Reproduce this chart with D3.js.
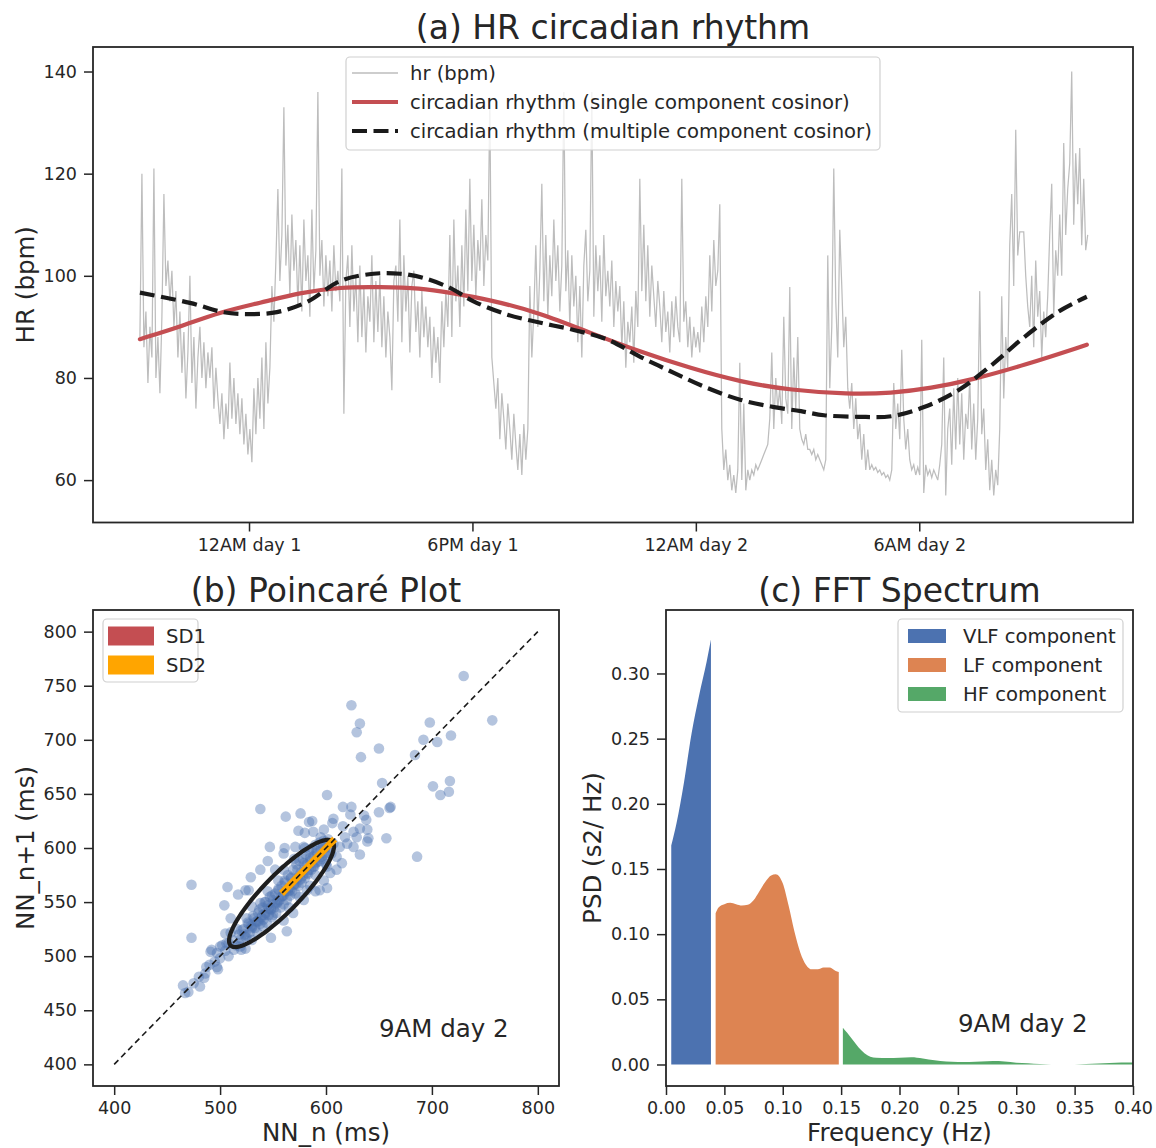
<!DOCTYPE html>
<html>
<head>
<meta charset="utf-8">
<script src="https://cdn.jsdelivr.net/npm/d3@7"></script>
<style>
  body { margin: 0; background: #fff; }
  svg { font-family: "DejaVu Sans", sans-serif; }
  .axis text { font-family: "DejaVu Sans", sans-serif; font-size: 17.5px; fill: #262626; }
  .axis line { stroke: #262626; stroke-width: 1.5; }
  .axis path { display: none; }
</style>
</head>
<body>
<svg id="chart" width="1156" height="1148"></svg>
<script>
// ---- (a) heart rate, hours relative to "12AM day 1" tick ----
const hrStart = -2.93;
const hrStep = 0.0537;
const hrValues = [
  88,120,86,93,79, 90,84,121,80,88, 77,92,116,98,103, 95,101,90,97,84, 93,81,89,76,85,
  100,79,88,74,84, 90,80,87,78,85, 80,86,74,82,76, 71,77,68,75,70, 83,72,80,71,77,
  69,76,67,73,65, 70,63.5,78,69,80, 72,84,70,87,75, 82,98,91,103,117, 99,108,133,102,110,
  96,112,101,107,94, 106,93,111,99,104, 92,113,97,105,136, 100,107,94,104,96, 103,93,106,97,101,
  95,121,73,99,104, 90,106,93,100,87, 102,88,98,85,96, 91,104,87,99,89, 100,86,96,84,93,
  88,77.6,99,102,91, 111,87,104,93,100, 85,98,101,89,95, 84,97,88,94,86, 92,80,90,83,88,
  79,95,86,97,90, 108,88,111,95,102, 90,106,94,113,97, 119,99,110,96,107, 101,115,98,108,103,
  135,84,79,74,80, 68,77,72,66,75, 70,64,73,67,62, 69,61,71,64,70, 98,84,93,106,90,
  101,118,95,108,92, 104,96,111,99,106, 93,102,136,97,105, 90,104,94,100,87, 98,84,102,109,95,
  101,136,92,106,97, 104,91,108,96,101, 94,103,90,99,93, 98,86,95,82,91, 87,94,83,97,90,
  119,97,110,95,106, 92,102,96,90,99, 94,87,97,89,93, 85,95,88,96,90, 87,119,91,95,86,
  92,84,90,86,89, 85,94,87,96,90, 104,93,107,98,101, 114,70,62,66,60, 63,58,61,57.5,62,
  83,60,75,58,62, 60,62,61,63,62, 63,64,65,66,67, 72,85,70,80,74, 78,71,92,76,73,
  97.8,70,84,74,88, 70,68,67,69,66, 66,65,66,64,65, 64,63,62,64,104, 78,90,121,95,84,
  109,98,86,92,78, 74,79,70,76,68, 71,64,69,62,66, 62,63,62,62.5,61.5, 62,61,61.5,60.5,61,
  60,62,79,70,75, 68,85.5,72,66,70, 64,62,63,61,62.5, 61,87.5,57.5,63,61, 62,60.5,62,61,60,
  63,67,84,57,70, 74,63,78,66,80, 67,77,64,73,70, 80,66,75,64,72, 97,69,74,62,68,
  58,64,57,62,59, 70,96,76,88,82, 106,116,98,128.6,104, 108.6,108.6,108.6,100,94, 90,100,86,103,92,
  97,84,93,88,96, 108,118,92,105,100, 112,100,126,108,117, 122,140,110,124,114, 125,106,119,105,108
];

const singleT = [-2.93, -1.86, -0.78, 0.3, 1.37, 2.45, 3.52, 4.6, 5.41, 6.48, 7.83, 9.17, 10.52, 11.86, 13.21, 14.55, 16.09, 17.25, 18.32, 19.4, 20.82, 22.5];
const singleHR = [87.6, 90.0, 92.9, 94.7, 96.7, 97.8, 97.8, 97.6, 96.7, 95.3, 92.7, 88.8, 85.1, 81.9, 79.2, 77.6, 76.8, 77.0, 78.0, 79.6, 82.5, 86.5];

const multiT = [-2.93, -1.59, -0.7, -0.05, 0.75, 1.56, 2.45, 3.34, 4.06, 4.68, 5.41, 6.03, 6.94, 7.83, 8.72, 9.63, 10.52, 11.41, 12.32, 13.21, 14.1, 14.82, 15.44, 16.36, 17.25, 18.13, 19.05, 19.94, 20.82, 21.74, 22.5];
const multiHR = [96.7, 94.7, 92.9, 92.5, 92.9, 94.9, 99.0, 100.4, 100.4, 99.6, 97.6, 95.0, 92.4, 90.8, 89.4, 87.5, 84.1, 81.0, 78.0, 75.7, 74.3, 73.5, 72.7, 72.4, 72.5, 74.3, 77.6, 82.5, 88.0, 93.0, 95.9];

const hrTickValues = [0, 6, 12, 18];
const hrTickLabels = ["12AM day 1", "6PM day 1", "12AM day 2", "6AM day 2"];
const hrLegend = ["hr (bpm)", "circadian rhythm (single component cosinor)", "circadian rhythm (multiple component cosinor)"];

// ---- (b) Poincaré ----
const nnX = [
  624,632,629,633,650,698,692,705,718,684,653,701,717,716,708,601,538,562,576,616,624,661,660,650,623,636,638,587,584,607,
  606,598,588,574,580,616,632,639,626,618,629,640,639,657,620,613,626,632,686,610,615,610,601,604,598,601,594,590,579,582,
  547,561,571,579,560,545,538,552,529,524,517,527,507,473,504,510,530,538,473,548,563,569,560,492,497,491,505,506,524,519,
  508,500,487,497,480,486,475,465,470,481,467,730,757,
  512,515,518,520,522,525,527,528,530,532,533,535,536,538,539,540,541,542,543,544,545,546,547,548,549,550,551,552,553,554,
  555,556,557,558,559,560,561,562,563,564,565,566,567,568,569,570,571,572,573,574,575,576,577,578,579,580,581,582,583,584,
  585,586,587,588,589,590,591,592,594,595,596,598,599,600,602,603,605,607,516,520,525,530,535,540,545,550,555,560,565,570,
  575,580,585,590,595,600,505,508,500,510,513,502,495,498,485,490,
  520,523,526,529,531,534,537,540,543,546,549,552,555,558,561,564,567,570,573,576,579,582,585,588,591,594,597,600,
  518,524,530,536,542,548,554,560,566,572,578,584,590,596
];
const nnY = [
  732,715,707,684,692,716,700,698,704,686,660,657,662,652,649,649,636,629,632,638,638,638,637,633,631,630,626,625,624,627,
  623,617,615,616,614,620,618,617,615,610,610,609,606,609,604,601,601,594,592,592,586,580,583,577,570,563,561,560,552,561,
  601,600,601,601,595,588,580,580,573,561,557,561,564,566,547,535,546,549,517,517,523,540,533,506,503,504,521,512,507,509,
  500,509,490,490,481,484,475,473,467,472,466,759,718,
  515,510,520,516,525,519,530,522,527,535,526,532,540,530,536,545,534,550,540,531,547,538,555,543,536,552,545,558,540,549,
  562,552,545,565,556,548,570,560,552,575,563,556,572,560,580,567,558,585,572,565,588,577,568,590,580,572,594,585,576,597,
  588,580,600,592,583,603,595,587,605,598,590,607,600,593,608,601,595,604,525,506,535,515,522,528,560,538,570,580,545,590,
  555,600,565,575,610,585,505,512,498,522,506,510,495,488,480,492,
  524,520,531,528,537,532,543,538,550,544,556,549,561,555,568,560,573,566,580,571,586,577,591,583,597,588,602,595,
  512,518,526,532,538,544,550,556,561,567,574,580,586,592
];
const nnMean = 558;
const sd1 = 17;
const sd2 = 68;
const poincareTicksX = [400, 500, 600, 700, 800];
const poincareTicksY = [400, 450, 500, 550, 600, 650, 700, 750, 800];
const poincareLegend = ["SD1", "SD2"];

// ---- (c) FFT spectrum ----
const vlfFreq = [0.0045, 0.009, 0.0155, 0.0219, 0.0283, 0.0348, 0.0385];
const vlfPsd = [0.168, 0.185, 0.217, 0.254, 0.283, 0.309, 0.326];
const lfFreq = [0.0425, 0.045, 0.05, 0.055, 0.06, 0.065, 0.07, 0.075, 0.08, 0.085, 0.09, 0.094, 0.1, 0.105, 0.11, 0.115, 0.12, 0.125, 0.13, 0.135, 0.14, 0.145, 0.148];
const lfPsd = [0.116, 0.1205, 0.123, 0.124, 0.123, 0.122, 0.1225, 0.126, 0.133, 0.14, 0.145, 0.146, 0.139, 0.122, 0.102, 0.086, 0.0764, 0.073, 0.073, 0.0744, 0.0744, 0.072, 0.071];
const hfFreq = [0.1515, 0.155, 0.16, 0.165, 0.17, 0.175, 0.18, 0.19, 0.2, 0.21, 0.22, 0.23, 0.24, 0.25, 0.26, 0.27, 0.28, 0.29, 0.3, 0.31, 0.32, 0.33, 0.34, 0.35, 0.36, 0.37, 0.38, 0.39, 0.4];
const hfPsd = [0.0282, 0.0245, 0.0187, 0.013, 0.0086, 0.006, 0.0052, 0.0049, 0.0052, 0.0055, 0.0046, 0.0032, 0.0023, 0.002, 0.002, 0.0023, 0.0026, 0.0023, 0.0014, 0.0009, 0.0003, 0, 0, 0, 0.0003, 0.0008, 0.0012, 0.0015, 0.0016];
const fftTicksX = [0, 0.05, 0.1, 0.15, 0.2, 0.25, 0.3, 0.35, 0.4];
const fftTicksY = [0, 0.05, 0.1, 0.15, 0.2, 0.25, 0.3];
const fftLegend = ["VLF component", "LF component", "HF component"];
const stampLabel = "9AM day 2";

const ink = "#262626";
const red = "#c44e52";
const blue = "#4c72b0";
const orange = "#dd8452";
const green = "#55a868";

const svg = d3.select("#chart");

function frame(box) {
  svg.append("rect")
    .attr("x", box.left).attr("y", box.top)
    .attr("width", box.right - box.left).attr("height", box.bottom - box.top)
    .attr("fill", "none").attr("stroke", ink).attr("stroke-width", 1.8);
}

function clip(id, box) {
  svg.append("clipPath").attr("id", id).append("rect")
    .attr("x", box.left).attr("y", box.top)
    .attr("width", box.right - box.left).attr("height", box.bottom - box.top);
}

function axes(box, x, y, xt, yt, xfmt, yfmt) {
  svg.append("g").attr("class", "axis")
    .attr("transform", `translate(0,${box.bottom})`)
    .call(d3.axisBottom(x).tickValues(xt).tickFormat(xfmt).tickSize(9).tickPadding(7));
  svg.append("g").attr("class", "axis")
    .attr("transform", `translate(${box.left},0)`)
    .call(d3.axisLeft(y).tickValues(yt).tickFormat(yfmt).tickSize(9).tickPadding(7));
}

function title(text, cx, y) {
  svg.append("text").attr("x", cx).attr("y", y)
    .attr("text-anchor", "middle").attr("font-size", 33).attr("fill", ink).text(text);
}

function ylabel(text, x, cy) {
  svg.append("text").attr("transform", `translate(${x},${cy}) rotate(-90)`)
    .attr("text-anchor", "middle").attr("font-size", 24.5).attr("fill", ink).text(text);
}

function xlabel(text, cx, y) {
  svg.append("text").attr("x", cx).attr("y", y)
    .attr("text-anchor", "middle").attr("font-size", 24.5).attr("fill", ink).text(text);
}

function legendBox(x, y, w, h) {
  svg.append("rect").attr("x", x).attr("y", y).attr("width", w).attr("height", h)
    .attr("rx", 4).attr("fill", "#fff").attr("fill-opacity", 0.8)
    .attr("stroke", "#d0d0d0").attr("stroke-width", 1.2);
}

// ================= (a) =================
const boxA = { left: 93, right: 1133, top: 47, bottom: 522.5 };
const xA = d3.scaleLinear().domain([-4.19, 23.74]).range([boxA.left, boxA.right]);
const yA = d3.scaleLinear().domain([51.7, 144.8]).range([boxA.bottom, boxA.top]);
clip("clipA", boxA);

const gA = svg.append("g").attr("clip-path", "url(#clipA)");
gA.append("path")
  .datum(hrValues)
  .attr("fill", "none").attr("stroke", "#bdbdbd").attr("stroke-width", 1.25)
  .attr("d", d3.line().x((d, i) => xA(hrStart + i * hrStep)).y(d => yA(d)));

gA.append("path")
  .datum(singleT.map((t, i) => [t, singleHR[i]]))
  .attr("fill", "none").attr("stroke", red).attr("stroke-width", 4.2).attr("stroke-linecap", "round")
  .attr("d", d3.line().curve(d3.curveBasis).x(d => xA(d[0])).y(d => yA(d[1])));

gA.append("path")
  .datum(multiT.map((t, i) => [t, multiHR[i]]))
  .attr("fill", "none").attr("stroke", "#1a1a1a").attr("stroke-width", 4.2).attr("stroke-dasharray", "15,6.5")
  .attr("d", d3.line().curve(d3.curveCatmullRom).x(d => xA(d[0])).y(d => yA(d[1])));

axes(boxA, xA, yA, hrTickValues, [60, 80, 100, 120, 140], (d, i) => hrTickLabels[i], d3.format("d"));
frame(boxA);
title("(a) HR circadian rhythm", (boxA.left + boxA.right) / 2, 39);
ylabel("HR (bpm)", 34, (boxA.top + boxA.bottom) / 2);

legendBox(346, 57, 534, 93);
const legA = [
  { stroke: "#bdbdbd", w: 1.3, dash: null },
  { stroke: red, w: 4.2, dash: null },
  { stroke: "#1a1a1a", w: 4.2, dash: "15,6.5" }
];
legA.forEach((s, i) => {
  const yy = 73 + i * 29;
  svg.append("line").attr("x1", 352).attr("x2", 398).attr("y1", yy).attr("y2", yy)
    .attr("stroke", s.stroke).attr("stroke-width", s.w).attr("stroke-dasharray", s.dash);
  svg.append("text").attr("x", 410).attr("y", yy).attr("dy", "0.36em")
    .attr("font-size", 19.6).attr("fill", ink).text(hrLegend[i]);
});

// ================= (b) =================
const boxB = { left: 93, right: 559, top: 610, bottom: 1086 };
const xB = d3.scaleLinear().domain([380, 820]).range([boxB.left, boxB.right]);
const yB = d3.scaleLinear().domain([380, 820]).range([boxB.bottom, boxB.top]);
clip("clipB", boxB);
const gB = svg.append("g").attr("clip-path", "url(#clipB)");

gB.selectAll("circle.nn")
  .data(nnX.map((x, i) => [x, nnY[i]]))
  .enter().append("circle")
  .attr("class", "nn")
  .attr("cx", d => xB(d[0])).attr("cy", d => yB(d[1]))
  .attr("r", 5.3).attr("fill", blue).attr("fill-opacity", 0.42);

const c45 = Math.SQRT1_2;
const u = [c45, c45], v = [-c45, c45];
const ellipsePts = d3.range(0, 361, 3).map(a => {
  const t = a * Math.PI / 180;
  return [nnMean + sd2 * Math.cos(t) * u[0] + sd1 * Math.sin(t) * v[0],
          nnMean + sd2 * Math.cos(t) * u[1] + sd1 * Math.sin(t) * v[1]];
});
gB.append("path").datum(ellipsePts)
  .attr("fill", "none").attr("stroke", "#1e1e1e").attr("stroke-width", 4.2)
  .attr("d", d3.line().x(d => xB(d[0])).y(d => yB(d[1])));

// SD2 bar, then SD1 wedge beside it
const uv = (a, b) => [nnMean + a * u[0] + b * v[0], nnMean + a * u[1] + b * v[1]];
const sd2End = uv(sd2 + 3, 0);
gB.append("line")
  .attr("x1", xB(nnMean)).attr("y1", yB(nnMean)).attr("x2", xB(sd2End[0])).attr("y2", yB(sd2End[1]))
  .attr("stroke", "#ffa500").attr("stroke-width", 7);
const wedge = [uv(0, 3), uv(9, 3.5), uv(3, sd1 + 8)];
gB.append("path").datum(wedge)
  .attr("fill", red).attr("stroke", red).attr("stroke-width", 1)
  .attr("d", d3.line().x(d => xB(d[0])).y(d => yB(d[1])) + "Z");

gB.append("line")
  .attr("x1", xB(400)).attr("y1", yB(400)).attr("x2", xB(800)).attr("y2", yB(800))
  .attr("stroke", "#1a1a1a").attr("stroke-width", 1.6).attr("stroke-dasharray", "6,4");

axes(boxB, xB, yB, poincareTicksX, poincareTicksY, d3.format("d"), d3.format("d"));
frame(boxB);
svg.append("text").attr("x", xB(650)).attr("y", yB(425))
  .attr("font-size", 24.5).attr("fill", ink).text(stampLabel);
title("(b) Poincaré Plot", (boxB.left + boxB.right) / 2, 602);
ylabel("NN_n+1 (ms)", 34, (boxB.top + boxB.bottom) / 2);
xlabel("NN_n (ms)", (boxB.left + boxB.right) / 2, 1141);

legendBox(103, 619, 95, 63);
[red, "#ffa500"].forEach((c, i) => {
  const yy = 636 + i * 29;
  svg.append("rect").attr("x", 108).attr("y", yy - 9.5).attr("width", 46).attr("height", 19).attr("fill", c);
  svg.append("text").attr("x", 166).attr("y", yy).attr("dy", "0.36em")
    .attr("font-size", 19.6).attr("fill", ink).text(poincareLegend[i]);
});

// ================= (c) =================
const boxC = { left: 666, right: 1133, top: 610, bottom: 1086 };
const xC = d3.scaleLinear().domain([0, 0.4]).range([boxC.left, boxC.right]);
const yC = d3.scaleLinear().domain([-0.0165, 0.3487]).range([boxC.bottom, boxC.top]);
clip("clipC", boxC);
const gC = svg.append("g").attr("clip-path", "url(#clipC)");

const area = d3.area().curve(d3.curveMonotoneX)
  .x(d => xC(d[0])).y0(yC(0)).y1(d => yC(d[1]));
[[vlfFreq, vlfPsd, blue], [lfFreq, lfPsd, orange], [hfFreq, hfPsd, green]].forEach(([f, p, c]) => {
  gC.append("path").datum(f.map((x, i) => [x, p[i]]))
    .attr("fill", c).attr("d", area);
});

axes(boxC, xC, yC, fftTicksX, fftTicksY, d3.format(".2f"), d3.format(".2f"));
frame(boxC);
svg.append("text").attr("x", xC(0.25)).attr("y", yC(0.025))
  .attr("font-size", 24.5).attr("fill", ink).text(stampLabel);
title("(c) FFT Spectrum", (boxC.left + boxC.right) / 2, 602);
ylabel("PSD (s2/ Hz)", 601, (boxC.top + boxC.bottom) / 2);
xlabel("Frequency (Hz)", (boxC.left + boxC.right) / 2, 1141);

legendBox(898, 619, 225, 93);
[blue, orange, green].forEach((c, i) => {
  const yy = 636 + i * 29;
  svg.append("rect").attr("x", 908).attr("y", yy - 7).attr("width", 38).attr("height", 14).attr("fill", c);
  svg.append("text").attr("x", 963).attr("y", yy).attr("dy", "0.36em")
    .attr("font-size", 19.6).attr("fill", ink).text(fftLegend[i]);
});
</script>
</body>
</html>
